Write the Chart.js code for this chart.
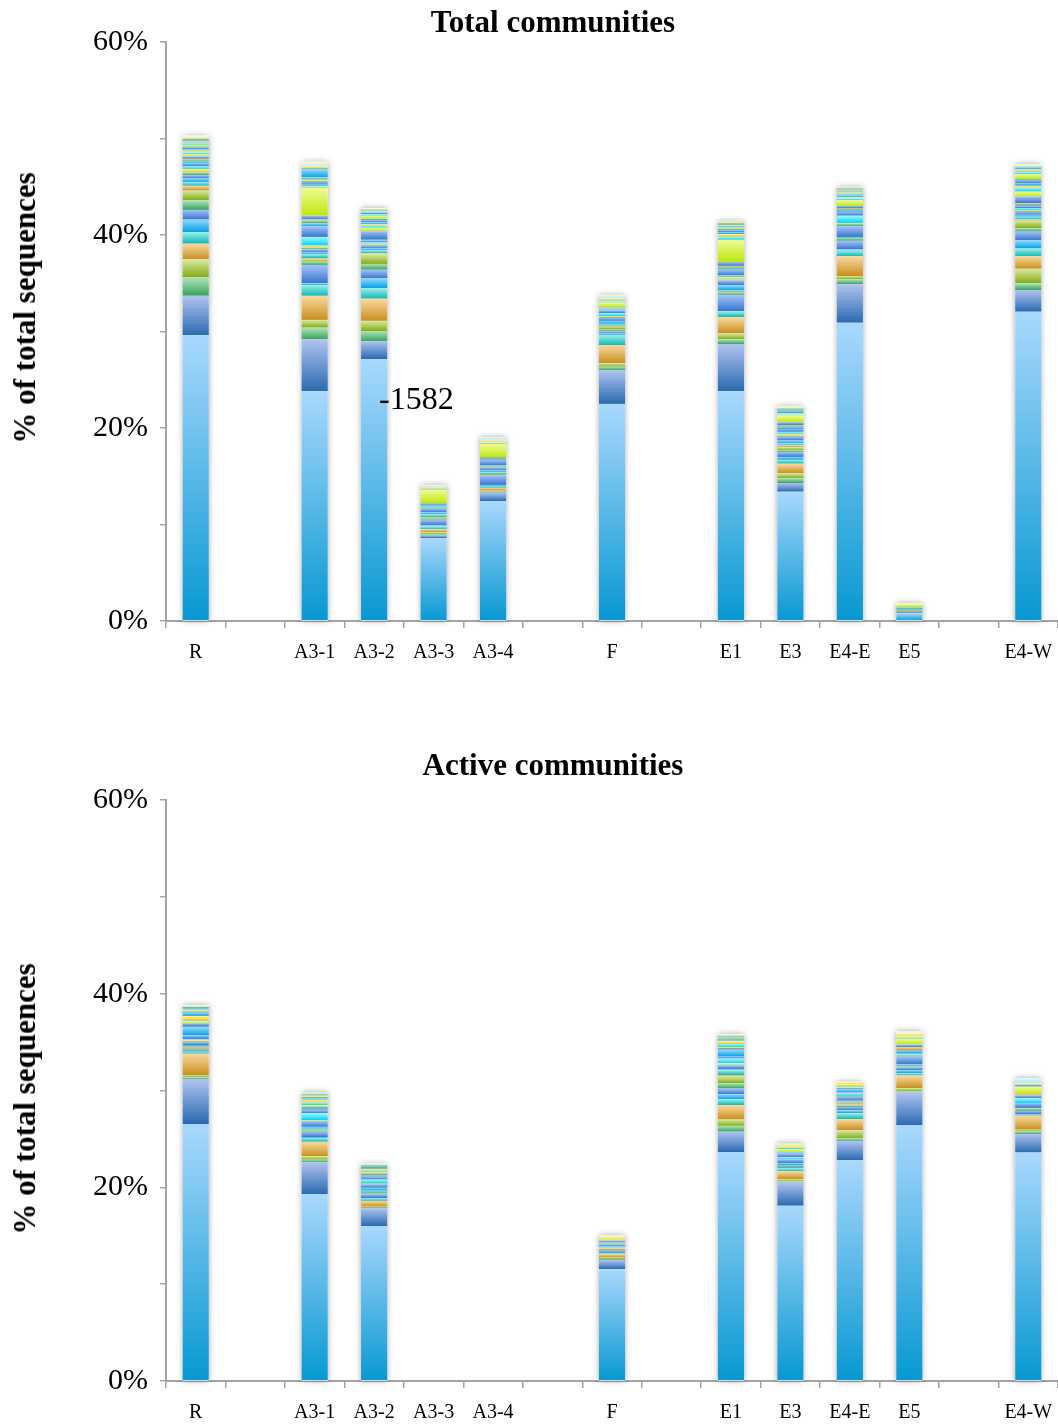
<!DOCTYPE html>
<html lang="en">
  <head>
    <meta charset="UTF-8" />
    <title>Total and active communities</title>
    <script src="https://cdn.jsdelivr.net/npm/chart.js@4.4.1/dist/chart.umd.min.js"></script>
  </head>
  <style>
   body{
    margin: 0;
    background: #fff;
   }
   #page{
    position: relative;
    width: 1058px;
    height: 1425px;
    font-family: "Liberation Serif", "Times New Roman", serif;
   }
   .panel{
    position: absolute;
    left: 0;
    width: 1058px;
   }
   .title{
    position: absolute;
    left: 353px;
    width: 400px;
    text-align: center;
    font-weight: bold;
    font-size: 31px;
    line-height: 30px;
   }
   .ytitle{
    position: absolute;
    white-space: nowrap;
    font-weight: bold;
    font-size: 31px;
    line-height: 30px;
    transform: translate(-50%, -50%) rotate(-90deg);
   }
   .note{
    position: absolute;
    font-size: 32px;
    line-height: 32px;
   }
  </style>
  <body>
    <div id="page">
      <div class="panel" style="top:0;height:680px;"><canvas id="totalChart" width="1058" height="680"></canvas></div>
      <div class="panel" style="top:758px;height:667px;"><canvas id="activeChart" width="1058" height="667"></canvas></div>
      <div class="title" style="top:7px;">Total communities</div>
      <div class="title" style="top:750px;">Active communities</div>
      <div class="ytitle" style="left:25px;top:308px;">% of total sequences</div>
      <div class="ytitle" style="left:25px;top:1099px;">% of total sequences</div>
      <div class="note" style="left:379px;top:382px;">-1582</div>
    </div>
  </body>
  <script>
    // sample slots, empty strings are the gaps between site groups
    var categories = ['R', '', 'A3-1', 'A3-2', 'A3-3', 'A3-4', '', 'F', '', 'E1', 'E3', 'E4-E', 'E5', '', 'E4-W'];

    // colour of each stacked series, bottom to top
    var seriesColors = ['lb', 'steel', 'green', 'olive', 'orange', 'teal', 'sky', 'blue',
      'green', 'olive', 'orange', 'teal', 'sky', 'blue', 'green', 'yellow', 'cyan', 'blue',
      'sky', 'green', 'orange', 'blue', 'lime', 'cyan', 'yellow', 'sky', 'blue', 'green',
      'lime', 'cyan', 'blue', 'yellow', 'sky', 'green', 'paleOrange', 'paleCyan', 'paleYellow'];

    // Total communities: % of sequences per series (bottom to top)
    var totalR   = [29.6, 4.1, 1.9, 1.9, 1.6, 1.2, 1.3, 1.0, 1.0, 1.0, 0.5, 0.4, 0.35, 0.35, 0.3, 0.35, 0.3, 0.25, 0.2, 0.2, 0.1, 0.25, 0.2, 0.2, 0.2, 0.15, 0.15, 0.15, 0.15, 0.15, 0.1, 0.15, 0.1, 0.1, 0.15, 0.1, 0.1];
    var totalA31 = [23.8, 5.4, 1.2, 0.8, 2.5, 1.1, 0.2, 1.9, 0.35, 0.25, 0.1, 0.4, 0.2, 0.3, 0.2, 0.2, 0.9, 1.1, 0.3, 0.3, 0.1, 0.4, 2.9, 0.1, 0.1, 0.2, 0.2, 0.05, 0.15, 0.1, 0.05, 0.1, 0.85, 0.15, 0.25, 0.2, 0.2];
    var totalA32 = [27.15, 1.85, 1.05, 1.05, 2.3, 1.1, 1.0, 0.9, 0.6, 1.0, 0.1, 0.3, 0.2, 0.3, 0.1, 0.1, 0.15, 0.2, 0.05, 0.05, 0, 0.85, 0.35, 0.2, 0.15, 0.2, 0.25, 0.15, 0.3, 0.15, 0.2, 0.1, 0.1, 0.05, 0.05, 0.1, 0.05];
    var totalA33 = [8.6, 0.25, 0.15, 0.2, 0.3, 0.3, 0.1, 0.6, 0.1, 0.1, 0.05, 0.3, 0.2, 0.4, 0.05, 0.05, 0.2, 0.2, 0, 0.05, 0, 0, 1.4, 0.05, 0.05, 0, 0, 0, 0, 0, 0, 0, 0, 0, 0.2, 0.15, 0.05];
    var totalA34 = [12.4, 0.9, 0.1, 0.1, 0.3, 0.2, 0.1, 1.0, 0.05, 0.05, 0.05, 0.15, 0.2, 0.3, 0.05, 0.05, 0.1, 0.6, 0.1, 0.05, 0.05, 0.05, 1.4, 0.05, 0.1, 0, 0, 0, 0, 0, 0, 0, 0, 0, 0.3, 0.25, 0];
    var totalF   = [22.5, 3.5, 0.35, 0.35, 1.9, 1.0, 0.2, 0.2, 0.25, 0.25, 0.1, 0.2, 0.3, 0.3, 0.1, 0.1, 0.3, 0.3, 0.1, 0.1, 0, 0.1, 0.5, 0.1, 0.1, 0.1, 0, 0, 0, 0, 0, 0, 0, 0, 0.2, 0.2, 0.1];
    var totalE1  = [23.8, 4.9, 0.5, 0.6, 1.7, 0.6, 0, 1.7, 0.25, 0.05, 0.05, 0.1, 0.55, 0.5, 0.1, 0.25, 0.15, 0.6, 0.1, 0.2, 0.1, 0.4, 2.3, 0.3, 0.3, 0.2, 0.2, 0.15, 0.1, 0.1, 0.05, 0.15, 0.1, 0.05, 0.15, 0.1, 0.05];
    var totalE3  = [13.4, 0.9, 0.5, 0.5, 1.0, 0.4, 0.3, 0.5, 0.2, 0.3, 0.2, 0.2, 0.3, 0.4, 0.1, 0.2, 0.2, 0.3, 0.2, 0.1, 0.1, 0.3, 0.7, 0.1, 0.1, 0.3, 0.05, 0.05, 0.05, 0.05, 0, 0, 0, 0, 0.15, 0.1, 0.05];
    var totalE4E = [30.9, 4.0, 0.5, 0.35, 2.05, 0.6, 0.1, 0.9, 0.3, 0, 0, 0.05, 0.05, 1.1, 0.3, 0.05, 0.75, 0.4, 0.2, 0.1, 0.1, 0.2, 0.6, 0.2, 0.1, 0.2, 0.1, 0.1, 0.1, 0.1, 0.1, 0.1, 0.05, 0.05, 0.1, 0.05, 0.05];
    var totalE5  = [0.8, 0.15, 0.05, 0.05, 0.1, 0.1, 0.05, 0.1, 0, 0, 0, 0, 0, 0, 0, 0, 0.05, 0, 0, 0, 0, 0, 0.3, 0, 0, 0, 0, 0, 0, 0, 0, 0, 0, 0, 0, 0, 0.1];
    var totalE4W = [32.05, 2.25, 0.7, 1.5, 1.3, 0.8, 0.85, 0.9, 0.35, 0.8, 0.1, 0.3, 0.2, 0.3, 0.1, 0.1, 0.2, 0.2, 0.1, 0.05, 0.15, 0.7, 0.5, 0.4, 0.2, 0.3, 0.3, 0.1, 0.5, 0.2, 0.1, 0.2, 0.2, 0.1, 0.1, 0.1, 0.05];

    // Active communities
    var activeR   = [26.55, 4.65, 0.15, 0.25, 2.2, 0.2, 0.1, 0.1, 0.1, 0.05, 0.15, 0.1, 0.1, 0.3, 0.05, 0.15, 0.1, 0.4, 0.85, 0.05, 0, 0.35, 0.2, 0.05, 0.5, 0.35, 0.1, 0.05, 0.1, 0.1, 0.05, 0.05, 0.05, 0.05, 0.05, 0.05, 0.1];
    var activeA31 = [19.3, 3.3, 0.25, 0.35, 1.5, 0.4, 0.1, 0.55, 0.1, 0.1, 0, 0.2, 0.1, 0.55, 0.1, 0.05, 0.7, 0.35, 0.1, 0.05, 0, 0.15, 0.2, 0.25, 0.3, 0.15, 0.05, 0.05, 0.1, 0.05, 0, 0.1, 0.05, 0, 0.05, 0.1, 0.05];
    var activeA32 = [16.0, 1.85, 0.05, 0.1, 0.6, 0.25, 0.05, 0.4, 0.1, 0.05, 0, 0.2, 0.3, 0.35, 0.05, 0.05, 0.4, 0.3, 0.1, 0.05, 0.05, 0.15, 0.15, 0.1, 0.2, 0.1, 0.1, 0.05, 0.05, 0.05, 0, 0.05, 0, 0, 0, 0.05, 0.1];
    var activeF   = [11.55, 0.95, 0.1, 0.2, 0.3, 0.1, 0.05, 0.2, 0.05, 0.05, 0.15, 0.1, 0.1, 0.2, 0.05, 0.05, 0.1, 0.2, 0, 0, 0, 0, 0.2, 0, 0.1, 0, 0, 0, 0, 0, 0, 0, 0, 0, 0.15, 0, 0.1];
    var activeE1  = [23.65, 2.1, 0.6, 0.65, 1.5, 0.6, 0.5, 0.6, 0.55, 0.7, 0.15, 0.5, 0.1, 0.4, 0.1, 0.1, 0.5, 0.2, 0.7, 0.05, 0.05, 0.1, 0.1, 0.3, 0.3, 0.1, 0.1, 0.05, 0.1, 0.05, 0, 0.05, 0.05, 0, 0.05, 0.05, 0.1];
    var activeE3  = [18.1, 2.4, 0.1, 0.25, 0.8, 0.3, 0.05, 0.1, 0.05, 0.05, 0, 0.1, 0.2, 0.4, 0, 0, 0.2, 0.4, 0.1, 0, 0, 0.05, 0.3, 0.15, 0.15, 0, 0, 0, 0.1, 0, 0, 0, 0, 0, 0.1, 0.05, 0.05];
    var activeE4E = [22.8, 2.0, 0.25, 0.85, 1.15, 0.6, 0.3, 0.35, 0.15, 0.1, 0.2, 0.1, 0.1, 0.4, 0.05, 0.05, 0.25, 0.1, 0.3, 0.05, 0, 0.1, 0.1, 0.1, 0.2, 0, 0, 0, 0.05, 0, 0, 0, 0, 0, 0.1, 0, 0.1];
    var activeE5  = [26.4, 3.4, 0.1, 0.35, 1.3, 0.25, 0.3, 0.3, 0.1, 0.05, 0, 0.05, 0.1, 0.8, 0.05, 0.05, 0.15, 0.1, 0.25, 0.05, 0.3, 0.3, 0.6, 0.1, 0.15, 0, 0, 0, 0.15, 0, 0, 0, 0, 0, 0.15, 0.1, 0.1];
    var activeE4W = [23.6, 1.9, 0.25, 0.2, 1.45, 0.1, 0.05, 0.35, 0.25, 0.05, 0, 0, 0, 0.5, 0, 0, 0.5, 0.3, 0, 0, 0.15, 0, 0.75, 0, 0, 0, 0.2, 0, 0, 0, 0, 0.1, 0, 0, 0.1, 0.45, 0];

    var yTicks = [0, 20, 40, 60];

    // gradient stops [top, bottom] like the old Excel look
    var palette = {
      lb:         ['#a9d8fd', '#0798d1'],
      steel:      ['#b0c4ef', '#2a6ab2'],
      green:      ['#aee4ba', '#38a35a'],
      olive:      ['#d8e9a4', '#85ab12'],
      orange:     ['#fad9a0', '#c88f1e'],
      teal:       ['#9beee8', '#0fb8b7'],
      sky:        ['#92d8fc', '#04a0e6'],
      blue:       ['#a4c3f7', '#3775cf'],
      yellow:     ['#fff39c', '#f0c41a'],
      lime:       ['#effb98', '#bfe70b'],
      cyan:       ['#a2f6ff', '#00d2f7'],
      paleOrange: ['#fff1cc', '#f6cf72'],
      paleCyan:   ['#e2fcff', '#92e9f8'],
      paleYellow: ['#fffbe2', '#f5ea92']
    };

    function segmentFill(c) {
      var chart = c.chart;
      var ds = chart.data.datasets[c.datasetIndex];
      var pair = palette[ds.colorKey];
      if (c.type !== 'data' || !chart.chartArea) return pair[1];
      var start = 0;
      for (var k = 0; k < c.datasetIndex; k++) {
        start += chart.data.datasets[k].data[c.dataIndex] || 0;
      }
      var end = start + (ds.data[c.dataIndex] || 0);
      var y = chart.scales.y;
      var top = y.getPixelForValue(end);
      var bottom = y.getPixelForValue(start);
      if (bottom - top < 0.5) return pair[1];
      var g = chart.ctx.createLinearGradient(0, top, 0, bottom);
      g.addColorStop(0, pair[0]);
      g.addColorStop(1, pair[1]);
      return g;
    }

    // soft grey glow behind each stacked column
    var columnShadow = {
      id: 'columnShadow',
      beforeDatasetsDraw: function(chart) {
        var ctx = chart.ctx;
        var y = chart.scales.y;
        var meta = chart.getDatasetMeta(0);
        meta.data.forEach(function(bar, i) {
          var total = 0;
          chart.data.datasets.forEach(function(d) { total += d.data[i] || 0; });
          if (!total) return;
          var top = y.getPixelForValue(total);
          var base = y.getPixelForValue(0);
          ctx.save();
          ctx.shadowColor = 'rgba(0,0,0,0.35)';
          ctx.shadowBlur = 6;
          ctx.fillStyle = '#ffffff';
          ctx.fillRect(bar.x - bar.width / 2, top, bar.width, base - top);
          ctx.restore();
        });
      }
    };

    function buildDatasets(bars) {
      return seriesColors.map(function(key, k) {
        return {
          label: 'OTU ' + (k + 1),
          colorKey: key,
          data: categories.map(function(cat) { return bars[cat] ? bars[cat][k] : 0; }),
          backgroundColor: segmentFill,
          borderWidth: 0,
          barPercentage: 0.44,
          categoryPercentage: 1
        };
      });
    }

    function create_chart(id, bars, axisHeight) {
      var ctx = document.getElementById(id);
      return new Chart(ctx, {
        type: 'bar',
        data: { labels: categories, datasets: buildDatasets(bars) },
        options: {
          responsive: false,
          devicePixelRatio: 1,
          animation: false,
          layout: { padding: { top: 42, right: 0, left: 0, bottom: 0 } },
          plugins: {
            legend: { display: false },
            title: { display: false },
            tooltip: { enabled: false }
          },
          scales: {
            x: {
              stacked: true,
              afterFit: function(scale) {
                scale.height = axisHeight;
                scale.paddingLeft = 0;
                scale.paddingRight = 0;
              },
              border: { color: '#a3a3a3', width: 2 },
              grid: { offset: true, drawOnChartArea: false, color: '#a3a3a3', lineWidth: 1.5, tickLength: 7 },
              ticks: {
                autoSkip: false,
                maxRotation: 0,
                padding: 13,
                color: '#000',
                font: { family: 'Liberation Serif', size: 20 }
              }
            },
            y: {
              stacked: true,
              min: 0,
              max: 60,
              afterFit: function(scale) { scale.width = 166; },
              border: { color: '#a3a3a3', width: 2 },
              grid: { drawOnChartArea: false, color: '#a3a3a3', lineWidth: 1.5, tickLength: 6 },
              ticks: {
                stepSize: 10,
                padding: 12,
                color: '#000',
                font: { family: 'Liberation Serif', size: 30 },
                callback: function(v) { return yTicks.indexOf(v) >= 0 ? v + '%' : ''; }
              }
            }
          }
        },
        plugins: [columnShadow]
      });
    }

    window.onload = function() {
      create_chart('totalChart', {
        'R': totalR, 'A3-1': totalA31, 'A3-2': totalA32, 'A3-3': totalA33, 'A3-4': totalA34,
        'F': totalF, 'E1': totalE1, 'E3': totalE3, 'E4-E': totalE4E, 'E5': totalE5, 'E4-W': totalE4W
      }, 59);
      create_chart('activeChart', {
        'R': activeR, 'A3-1': activeA31, 'A3-2': activeA32,
        'F': activeF, 'E1': activeE1, 'E3': activeE3, 'E4-E': activeE4E, 'E5': activeE5, 'E4-W': activeE4W
      }, 44);
    };
  </script>
</html>
